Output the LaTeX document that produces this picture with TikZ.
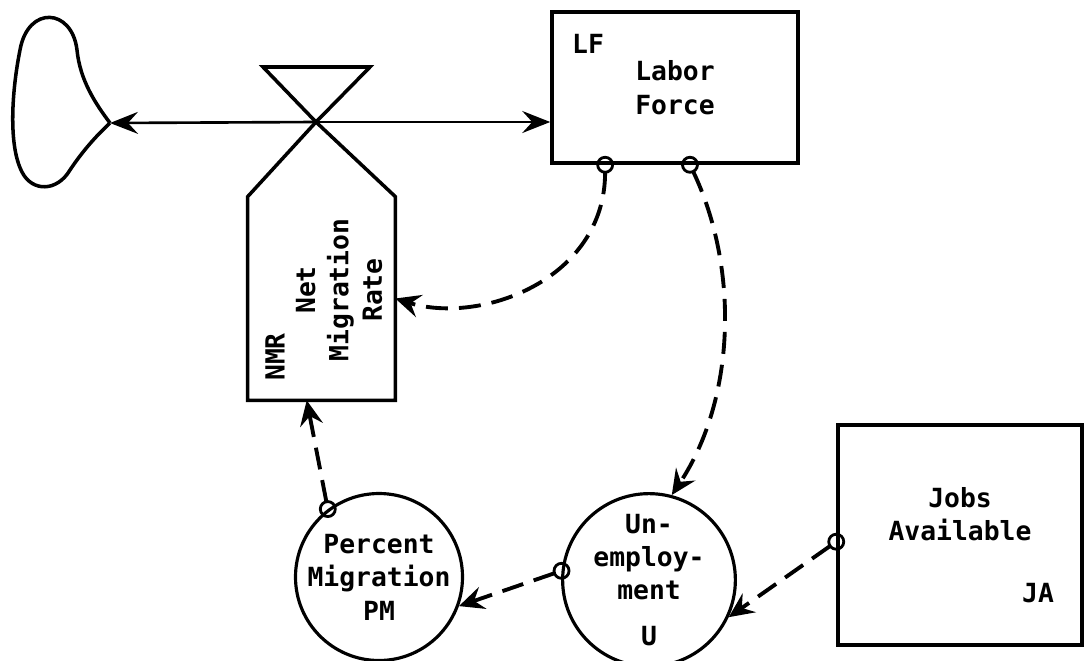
\documentclass[tikz,border=0pt]{standalone}
\usepackage{fontspec}
\setmainfont{DejaVu Sans Mono}
\usetikzlibrary{calc,arrows.meta}

\begin{document}
\begin{tikzpicture}[x=0.2mm, y=-0.2mm,
  txt/.style={font=\fontsize{15}{19}\selectfont\bfseries, align=center, inner sep=0pt},
  box/.style={draw, line width=2pt},
  aux/.style={draw, circle, line width=1.8pt, minimum size=33.4mm},
  flow/.style={line width=1.5pt, -{Stealth[length=5.6mm, width=4.4mm, inset=2mm]}},
  info/.style={line width=2.2pt, dash pattern=on 4.4mm off 2.2mm, -{Stealth[length=5mm, width=4.6mm, inset=1.8mm]}},
  tap/.style={line width=1.6pt}]
\useasboundingbox (0,0) rectangle (1085,660);

%QUELLE (WOLKE)
\coordinate (cloud) at (110,123);
\draw [line width=2pt] (cloud) .. controls (95,103) and (80,80) .. (77,50)
  .. controls (72,8) and (28,5) .. (20,50) .. controls (12,90) and (8,145) .. (22,172)
  .. controls (32,192) and (57,192) .. (70,170) .. controls (82,152) and (95,137) .. (cloud);

%VENTIL NMR
\coordinate (valve) at (316,122);
\node [minimum width=29.4mm, minimum height=40.6mm] (NMR) at (321.5,298.5) {};
\draw [line width=2pt] (valve) -- (NMR.north west) -- (NMR.south west) -- (NMR.south east) -- (NMR.north east) -- cycle;
\draw [line width=2pt] (valve) -- (263,67) -- (370,67) -- cycle;
\node [txt, rotate=90] (NMRtext) at (339,290) {Net\\Migration\\Rate};
\node [txt, rotate=90] (NMRname) at (275,357) {NMR};

%LEVEL LF
\node [box, txt, minimum width=49.2mm, minimum height=30.2mm] (LF) at (675,87.5) {Labor\\Force};
\node [txt] (LFname) at (588,44) {LF};

%LEVEL JA
\node [box, minimum width=48.8mm, minimum height=44mm] (JA) at (960,535) {};
\node [txt] (JAtext) at (960,514) {Jobs\\Available};
\node [txt] (JAname) at (1038,593) {JA};

%HILFSGROESSEN PM UND U
\node [aux, txt] (PM) at (379,577) {Percent\\Migration\\PM};
\node [aux, txt] (U) at (649,580) {Un-\\employ-\\ment\\[2.5mm]U};

%ABGRIFFE
\coordinate (lf1) at ($(LF.south west)!0.22!(LF.south east)$);
\coordinate (lf2) at ($(LF.south west)!0.56!(LF.south east)$);
\coordinate (ja1) at ($(JA.north west)!0.53!(JA.south west)$);
\coordinate (pm1) at (PM.127);
\coordinate (u1) at (U.174);
\foreach \p in {lf1,lf2,ja1,pm1,u1}
  \draw [tap] (\p) circle [radius=1.5mm];

%FLUSS
\draw [flow] (valve) -- (cloud);
\draw [flow] (valve) -- (valve -| LF.west);

%INFORMATION
\draw [info, shorten <=1.5mm] (lf1) .. controls (605,280) and (480,325) .. (NMR.east);
\draw [info, shorten <=1.5mm] (lf2) .. controls (740,270) and (735,400) .. (U.75);
\draw [info, shorten <=1.5mm] (ja1) -- (U.-25);
\draw [info, shorten <=1.5mm] (u1) -- (PM.-20);
\draw [info, shorten <=1.5mm] (pm1) -- ($(NMR.south west)!0.4!(NMR.south east)$);

\end{tikzpicture}
\end{document}
